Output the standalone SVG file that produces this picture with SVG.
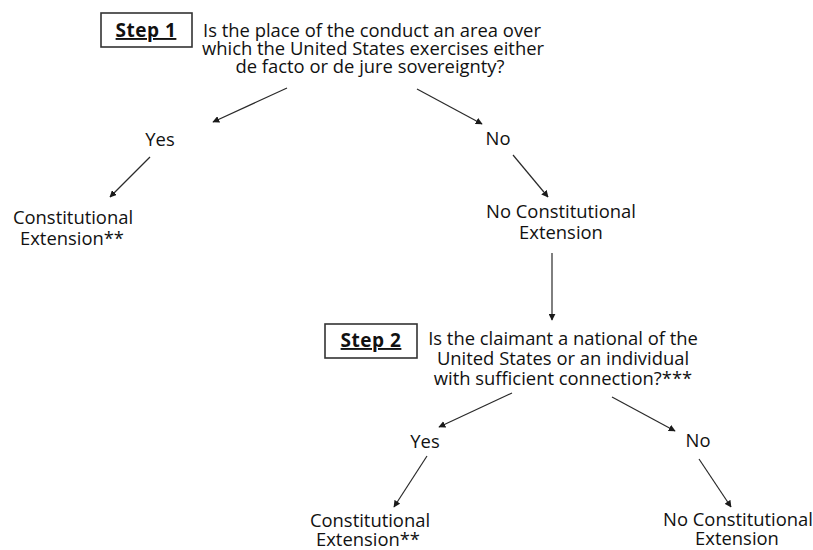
<svg xmlns="http://www.w3.org/2000/svg" width="813" height="550" viewBox="0 0 813 550">
<style>
  text { font-family: "Open Sans", "Liberation Sans", sans-serif; font-size: 18.4px; fill: #111111; text-anchor: middle; }
  .step { font-weight: bold; text-decoration: underline; font-size: 19px; letter-spacing: 0.5px; }
  .box { fill: #ffffff; stroke: #333333; stroke-width: 1.6; }
  .conn { stroke: #2a2a2a; stroke-width: 1.2; fill: none; marker-end: url(#ah); }
</style>
<defs>
  <marker id="ah" viewBox="0 0 10 10" refX="9" refY="5" markerWidth="7" markerHeight="7" markerUnits="userSpaceOnUse" orient="auto">
    <path d="M0,0 L10,5 L0,10 z" fill="#1a1a1a"/>
  </marker>
</defs>
<rect width="813" height="550" fill="#ffffff"/>

<g id="step1">
  <rect class="box" x="101" y="13" width="91" height="34"/>
  <text class="step" x="146" y="37">Step 1</text>
</g>
<g id="q1">
  <text x="372" y="37">Is the place of the conduct an area over<tspan x="373" dy="18">which the United States exercises either</tspan><tspan x="370" dy="18">de facto or de jure sovereignty?</tspan></text>
</g>
<g id="yes1"><text x="160" y="146">Yes</text></g>
<g id="no1"><text x="498" y="145">No</text></g>
<g id="ce1">
  <text x="73" y="224">Constitutional<tspan x="72" dy="21">Extension**</tspan></text>
</g>
<g id="nce1">
  <text x="561" y="218">No Constitutional<tspan x="561" dy="21">Extension</tspan></text>
</g>
<g id="step2">
  <rect class="box" x="325" y="324" width="92" height="34"/>
  <text class="step" x="371" y="347">Step 2</text>
</g>
<g id="q2">
  <text x="563" y="345">Is the claimant a national of the<tspan x="563" dy="20">United States or an individual</tspan><tspan x="563" dy="20">with sufficient connection?***</tspan></text>
</g>
<g id="yes2"><text x="425" y="448">Yes</text></g>
<g id="no2"><text x="698" y="447">No</text></g>
<g id="ce2">
  <text x="370" y="527">Constitutional<tspan x="368" dy="19">Extension**</tspan></text>
</g>
<g id="nce2">
  <text x="738" y="526">No Constitutional<tspan x="737" dy="19">Extension</tspan></text>
</g>

<g id="connectors">
  <line class="conn" x1="287" y1="88" x2="213" y2="122"/>
  <line class="conn" x1="417" y1="89" x2="482" y2="124"/>
  <line class="conn" x1="150" y1="157" x2="110" y2="197"/>
  <line class="conn" x1="513" y1="155" x2="548" y2="197"/>
  <line class="conn" x1="552" y1="253" x2="552" y2="320"/>
  <line class="conn" x1="512" y1="393" x2="439" y2="427"/>
  <line class="conn" x1="612" y1="397" x2="675" y2="431"/>
  <line class="conn" x1="427" y1="456" x2="394" y2="507"/>
  <line class="conn" x1="699" y1="459" x2="731" y2="507"/>
</g>
</svg>
